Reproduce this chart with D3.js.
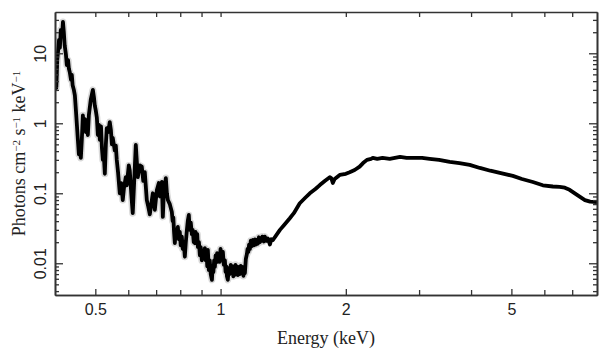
<!DOCTYPE html>
<html><head><meta charset="utf-8">
<script src="https://cdn.jsdelivr.net/npm/d3@7"></script>
<style>body{margin:0;background:#fff}svg{display:block}</style>
</head><body>
<script>
// Spectrum: energy (keV) and flux (photons cm^-2 s^-1 keV^-1)
const energy = [
0.400,0.401,0.403,0.405,0.407,0.409,0.411,0.413,0.416,0.418,0.420,0.422,0.425,0.427,0.430,0.432,0.434,0.437,0.439,0.441,
0.444,0.4465,0.449,0.4515,0.454,0.4565,0.459,0.4615,0.464,0.4667,0.469,0.4718,0.4744,0.477,0.4797,0.4824,0.4877,0.4932,0.496,0.4985,
0.5015,0.5043,0.507,0.510,0.5126,0.516,0.5185,0.5212,0.524,0.527,0.530,0.5327,0.537,0.5416,0.545,0.548,0.5506,0.5568,0.560,0.563,
0.567,0.5725,0.577,0.582,0.586,0.5918,0.595,0.6017,0.605,0.610,0.615,0.619,0.6255,0.6325,0.6395,0.6466,0.652,0.6574,0.6648,0.670,
0.676,0.6873,0.695,0.7027,0.7106,0.7146,0.7185,0.7225,0.7265,0.730,0.7387,0.743,0.747,0.755,
0.7636,0.767,0.770,0.773,0.7764,0.780,0.784,0.7894,0.794,0.798,
0.802,0.807,0.811,0.8155,0.8205,0.825,0.830,0.834,0.8388,0.843,
0.848,0.853,0.857,0.862,0.867,0.871,0.875,0.879,0.882,0.887,
0.8917,0.896,0.9016,0.9066,0.911,0.9167,0.921,0.925,0.929,0.932,
0.937,0.942,0.947,0.9533,0.957,0.961,0.965,0.969,0.973,0.977,
0.981,0.9852,0.990,0.995,1.000,1.006,1.0128,1.018,1.024,1.028,
1.032,1.036,1.041,1.046,1.052,1.058,1.0645,1.069,1.073,1.078,
1.0823,1.086,1.090,1.095,1.1003,1.106,1.112,1.118,1.1252,1.130,
1.135,1.140,1.144,1.150,1.1567,1.161,1.166,1.171,1.176,1.182,
1.188,1.1957,1.202,1.209,1.215,1.2225,1.229,1.236,1.243,1.250,
1.260,1.270,1.278,1.290,1.300,1.314,1.325,1.3365,1.350,1.360,
1.389,1.42,1.467,1.50,1.55,1.60,1.639,1.69,1.732,1.78,1.83,1.845,
1.861,1.88,1.934,2.00,2.043,2.10,2.159,2.20,2.248,2.30,2.322,2.38,2.45,2.55,2.70,2.80,2.93,3.05,3.18,3.35,
3.555,3.75,3.97,4.20,4.45,4.69,5.04,5.30,5.63,5.95,6.29,6.53,6.72,6.90,7.19,7.51,7.73,8.03
];
const flux = [
3.0,9.5,3.2,8.0,11.0,15.5,12,21.5,18,28,20,13,9.5,6.8,8.0,6.0,5.4,4.2,4.9,3.5,
3.0,2.5,1.55,0.95,0.58,0.36,0.45,0.32,0.58,1.3,0.9,1.15,0.75,1.1,0.68,1.3,2.2,3.0,2.4,1.8,
1.5,1.2,0.68,0.95,0.58,0.9,0.45,0.30,0.35,0.19,0.5,0.85,0.75,1.04,0.8,0.5,0.62,0.41,0.48,0.3,
0.2,0.1,0.14,0.08,0.12,0.17,0.13,0.25,0.21,0.1,0.052,0.12,0.49,0.17,0.25,0.24,0.15,0.2,0.08,0.065,
0.05,0.1,0.058,0.11,0.14,0.09,0.12,0.145,0.046,0.09,0.165,0.1,0.08,0.07,
0.054,0.04,0.045,0.028,0.0194,0.03,0.024,0.033,0.022,0.028,
0.018,0.024,0.016,0.02,0.0124,0.02,0.03,0.04,0.049,0.03,
0.038,0.026,0.03,0.02,0.0194,0.028,0.022,0.026,0.017,0.02,
0.013,0.017,0.011,0.015,0.012,0.0165,0.011,0.014,0.009,0.0155,
0.008,0.011,0.007,0.0058,0.009,0.0075,0.011,0.0089,0.013,0.0105,
0.014,0.0105,0.013,0.0105,0.016,0.012,0.0145,0.0095,0.011,0.0075,
0.009,0.0065,0.0058,0.0085,0.007,0.0095,0.0075,0.009,0.0065,0.0085,
0.0068,0.0095,0.0075,0.009,0.0068,0.0088,0.007,0.0092,0.0072,0.0088,
0.0066,0.0085,0.0072,0.0115,0.0135,0.016,0.0145,0.0185,0.016,0.021,
0.0175,0.0215,0.018,0.022,0.0185,0.0215,0.019,0.0235,0.02,0.021,
0.024,0.0205,0.024,0.021,0.0225,0.0185,0.022,0.0215,0.0235,0.025,
0.03,0.035,0.044,0.052,0.072,0.087,0.1,0.115,0.131,0.15,0.17,0.165,
0.14,0.16,0.183,0.19,0.2,0.215,0.24,0.27,0.3,0.31,0.32,0.31,0.32,0.31,0.33,0.32,0.32,0.32,0.31,0.3,
0.28,0.27,0.254,0.23,0.21,0.195,0.177,0.16,0.145,0.13,0.125,0.123,0.12,0.112,0.095,0.08,0.076,0.075
];
const xMajor = [0.5, 1, 2, 5];
const xMinor = [0.6, 0.7, 0.8, 0.9, 3, 4, 6, 7];
const yMajor = [0.01, 0.1, 1, 10];
const yMinor = [0.004,0.005,0.006,0.007,0.008,0.009,0.02,0.03,0.04,0.05,0.06,0.07,0.08,0.09,
                0.2,0.3,0.4,0.5,0.6,0.7,0.8,0.9,2,3,4,5,6,7,8,9,20,30];
const xTitle = "Energy (keV)";

const W = 609, H = 357;
const L = 55, R = 597, T = 12, B = 295;
const svg = d3.select("body").append("svg").attr("width", W).attr("height", H);
const x = d3.scaleLog().domain([0.4, 8.03]).range([L, R]);
const y = d3.scaleLog().domain([0.00352, 38.9]).range([B, T]);

svg.append("clipPath").attr("id","clip").append("rect")
  .attr("x", L).attr("y", T).attr("width", R - L).attr("height", B - T);

const pts = energy.map((e, i) => [e, flux[i]]);
const line = d3.line().x(d => x(d[0])).y(d => y(d[1]));
const g = svg.append("g").attr("clip-path", "url(#clip)");
g.append("path").datum(pts.filter(d => d[0] < 1.3)).attr("d", line)
  .attr("fill","none").attr("stroke","#d9d9d9").attr("stroke-width",7).attr("stroke-linejoin","round");
g.append("path").datum(pts).attr("d", line)
  .attr("fill","none").attr("stroke","#000").attr("stroke-width",3.8).attr("stroke-linejoin","round");

const axisColor = "#333";
function style(sel){
  sel.selectAll(".domain").attr("stroke", axisColor).attr("stroke-width",1.6);
  sel.selectAll(".tick line").attr("stroke", axisColor).attr("stroke-width",1.3);
}
const tickFont = "Liberation Sans, Arial, sans-serif";
// bottom
const bx = svg.append("g").attr("transform",`translate(0,${B})`)
  .call(d3.axisBottom(x).tickValues(xMajor).tickSizeInner(-6).tickSizeOuter(0).tickPadding(9).tickFormat(d3.format("")));
bx.selectAll("text").attr("font-family", tickFont).attr("font-size",16).attr("fill","#222");
svg.append("g").attr("transform",`translate(0,${B})`)
  .call(d3.axisBottom(x).tickValues(xMinor).tickSizeInner(-5).tickSizeOuter(0).tickFormat("")).call(style);
style(bx);
// top
svg.append("g").attr("transform",`translate(0,${T})`)
  .call(d3.axisTop(x).tickValues(xMajor.concat(xMinor)).tickSizeInner(-5).tickSizeOuter(0).tickFormat("")).call(style);
// left
const ly = svg.append("g").attr("transform",`translate(${L},0)`)
  .call(d3.axisLeft(y).tickValues(yMajor).tickSizeInner(-8).tickSizeOuter(0).tickFormat(""));
style(ly);
svg.append("g").attr("transform",`translate(${L},0)`)
  .call(d3.axisLeft(y).tickValues(yMinor).tickSizeInner(-4).tickSizeOuter(0).tickFormat("")).call(style);
ly.selectAll(".tick").append("text")
  .attr("transform","translate(-9,0) rotate(-90)")
  .attr("text-anchor","middle").attr("fill","#222")
  .attr("font-family", tickFont).attr("font-size",16)
  .text(d => d3.format("")(d));
// right
svg.append("g").attr("transform",`translate(${R},0)`)
  .call(d3.axisRight(y).tickValues(yMajor).tickSizeInner(-8).tickSizeOuter(0).tickFormat("")).call(style);
svg.append("g").attr("transform",`translate(${R},0)`)
  .call(d3.axisRight(y).tickValues(yMinor).tickSizeInner(-4).tickSizeOuter(0).tickFormat("")).call(style);

const serif = "Liberation Serif, Times New Roman, serif";
svg.append("text").attr("x",(L+R)/2).attr("y",344).attr("text-anchor","middle")
  .attr("font-family",serif).attr("font-size",18).attr("fill","#222").text(xTitle);
const yt = svg.append("text").attr("transform",`translate(25,${(T+B)/2}) rotate(-90)`)
  .attr("text-anchor","middle").attr("font-family",serif).attr("font-size",18).attr("fill","#222");
const parts = [["Photons cm",""],["−2","sup"],[" s",""],["−1","sup"],[" keV",""],["−1","sup"]];
parts.forEach(p => {
  const t = yt.append("tspan").text(p[0]);
  if (p[1] === "sup") t.attr("font-size",11).attr("baseline-shift","50%");
});
</script>
</body></html>
